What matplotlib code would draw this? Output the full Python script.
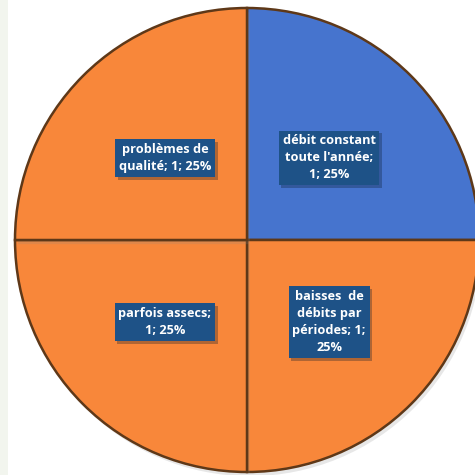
import matplotlib.pyplot as plt
import matplotlib.patheffects as pe
from matplotlib.patches import Rectangle

# Répartition des réponses
categories = ["débit constant\ntoute l'année;\n1; 25%",
              "baisses  de\ndébits par\npériodes; 1;\n25%",
              "parfois assecs;\n1; 25%",
              "problèmes de\nqualité; 1; 25%"]
values = [1, 1, 1, 1]
colors = ["#4674CE", "#F8873A", "#F8873A", "#F8873A"]

fig = plt.figure(figsize=(4.75, 4.75), dpi=100)
fig.patch.set_facecolor("white")
fig.patches.append(Rectangle((0, 0), 8 / 475, 1, transform=fig.transFigure,
                             facecolor="#F2F5EE", edgecolor="none"))

cx, cy, r = 247 / 475, 1 - 240 / 475, 232 / 475
ax = fig.add_axes([cx - r, cy - r, 2 * r, 2 * r])

wedges, texts = ax.pie(values, colors=colors, startangle=90, counterclock=False,
                       radius=1, labels=categories, labeldistance=0.5,
                       wedgeprops=dict(edgecolor="#5E3818", linewidth=1.8),
                       textprops=dict(color="white", fontsize=9.2, fontweight="bold",
                                      family="Open Sans", ha="center", va="center",
                                      linespacing=1.4))
ax.set_xlim(-1, 1)
ax.set_ylim(-1, 1)
ax.set_aspect("equal")
ax.axis("off")

for w in wedges:
    w.set_path_effects([pe.SimplePatchShadow(offset=(2, -3), alpha=0.2, shadow_rgbFace="#888888"),
                        pe.Normal()])

for t in texts:
    t.set_bbox(dict(boxstyle="square,pad=0.3", facecolor="#1E5287", edgecolor="none"))
    t.get_bbox_patch().set_path_effects([pe.SimplePatchShadow(offset=(2, -2), alpha=0.3),
                                         pe.Normal()])

fig.savefig("out.png", dpi=100)
